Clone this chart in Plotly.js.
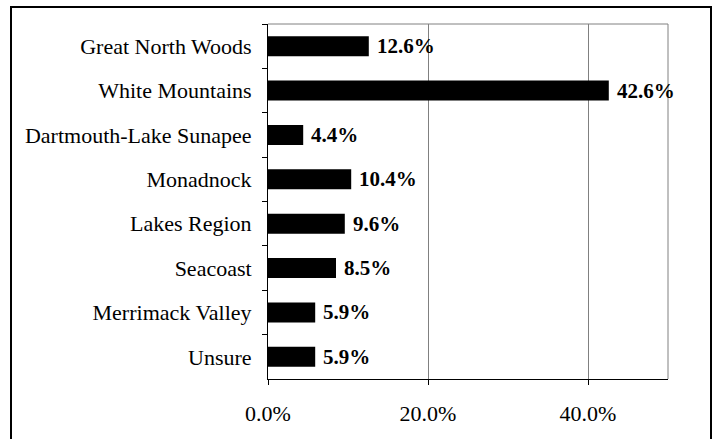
<!DOCTYPE html>
<html>
<head>
<meta charset="utf-8">
<script src="https://cdn.plot.ly/plotly-3.0.1.min.js"></script>
<style>html,body{margin:0;padding:0;background:#fff;}#chart{width:713px;height:439px;}</style>
</head>
<body>
<div id="chart"></div>
<script>
const categories = ["Great North Woods","White Mountains","Dartmouth-Lake Sunapee","Monadnock","Lakes Region","Seacoast","Merrimack Valley","Unsure"];
const values = [12.6, 42.6, 4.4, 10.4, 9.6, 8.5, 5.9, 5.9];
const xTickVals = [0, 20, 40];
const xTickText = ["0.0%", "20.0%", "40.0%"];

const font = "'Times New Roman', 'Liberation Serif', serif";
const trace = {
  type: "bar",
  orientation: "h",
  x: values,
  y: categories,
  width: 0.45,
  marker: {color: "#000000"},
  textposition: "none",
  hoverinfo: "none"
};
const annotations = values.map((v, i) => ({
  x: v, y: categories[i], xref: "x", yref: "y",
  text: "<b>" + v.toFixed(1) + "%</b>",
  showarrow: false, xanchor: "left", yanchor: "middle", xshift: 6,
  font: {family: font, size: 21, color: "#000"}
}));
const layout = {
  width: 713, height: 439,
  margin: {l: 268, r: 45, t: 24, b: 60},
  paper_bgcolor: "#fff", plot_bgcolor: "#fff",
  showlegend: false,
  font: {family: font, size: 22, color: "#000"},
  xaxis: {
    range: [0, 50], tickvals: xTickVals, ticktext: xTickText,
    showgrid: true, gridcolor: "#808080", gridwidth: 1,
    showline: true, linecolor: "#000", linewidth: 1,
    ticks: "outside", ticklen: 5, tickcolor: "#000",
    ticklabelstandoff: 10, zeroline: false, fixedrange: true
  },
  yaxis: {
    autorange: "reversed", type: "category",
    showline: true, linecolor: "#000", linewidth: 1,
    ticks: "outside", ticklen: 5, tickcolor: "#000", tickson: "boundaries",
    showgrid: false, zeroline: false, fixedrange: true, ticklabelstandoff: 11
  },
  annotations: annotations,
  shapes: [
    {type: "line", xref: "paper", yref: "paper", x0: 0, x1: 1, y0: 1, y1: 1, line: {color: "#808080", width: 1}},
    {type: "line", xref: "paper", yref: "paper", x0: 1, x1: 1, y0: 0, y1: 1, line: {color: "#808080", width: 1}},
    {type: "rect", xref: "paper", yref: "paper", x0: -0.6425, x1: 1.1075, y0: -0.175, y1: 1.048, line: {color: "#000", width: 2}}
  ]
};
Plotly.newPlot("chart", [trace], layout, {displayModeBar: false, staticPlot: true});
</script>
</body>
</html>
